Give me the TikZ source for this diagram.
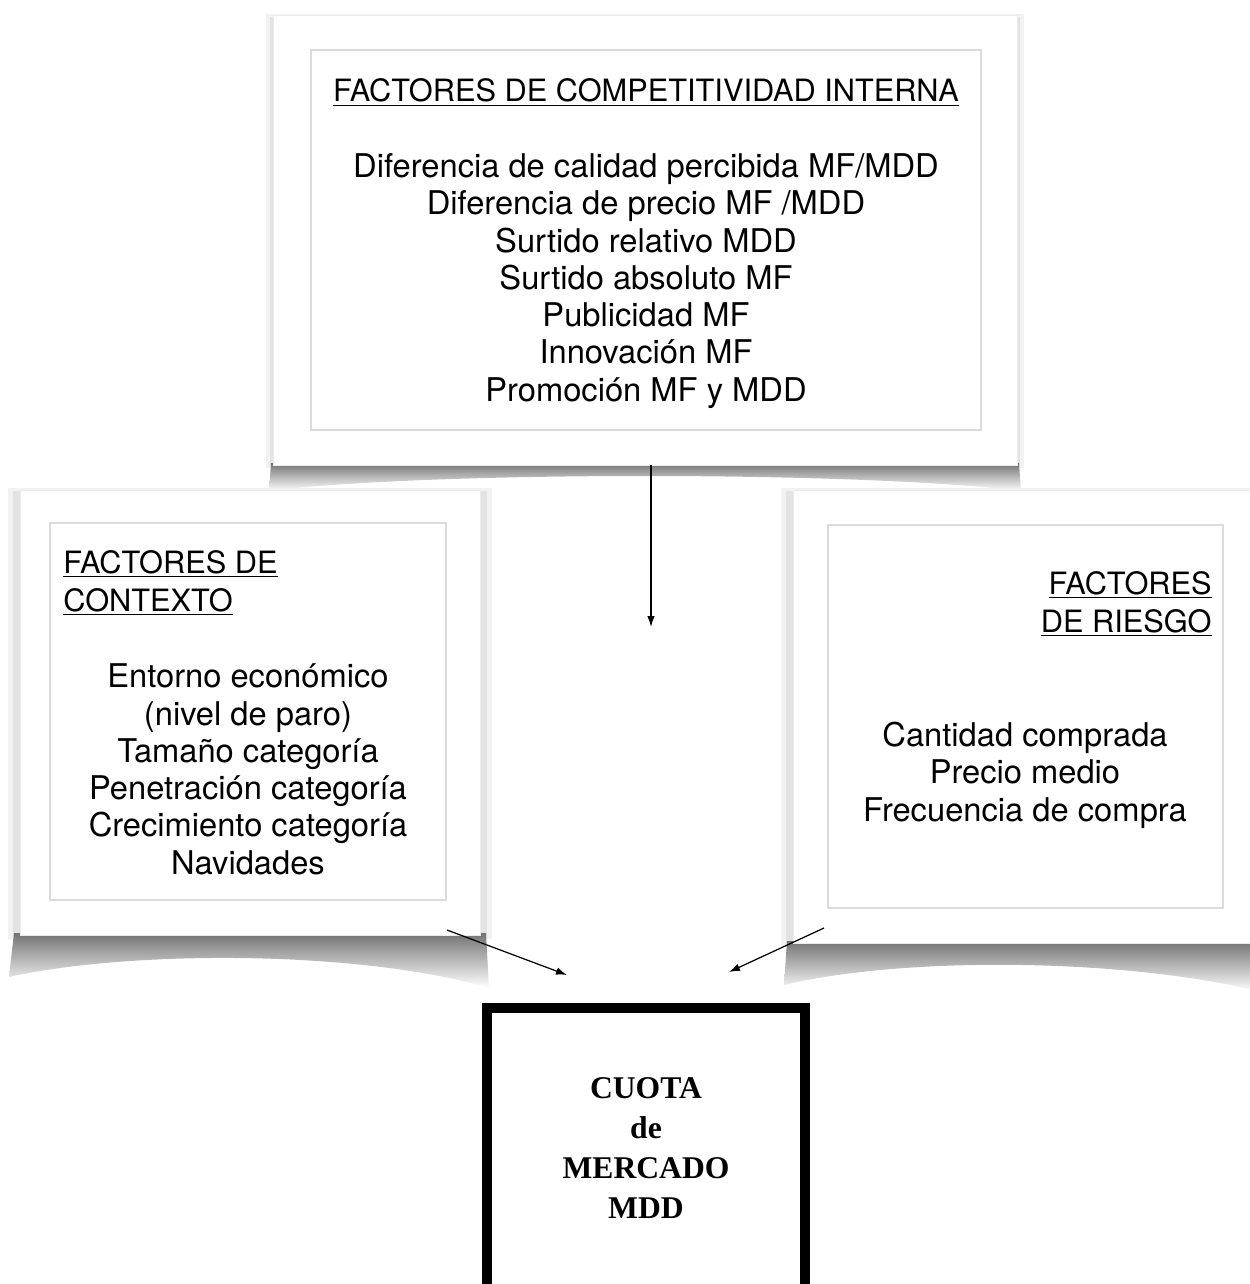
\documentclass[tikz,border=0pt]{standalone}
\usepackage{fontspec}
\setmainfont{TeX Gyre Heros}
\newfontfamily\cuotafont{Liberation Serif}
\usetikzlibrary{positioning,arrows.meta}
\tikzset{
  frame/.style={draw=black!8, fill=white, line width=0.5pt, inner sep=0pt},
  panel/.style={draw=black!14, line width=0.85pt, inner sep=0pt},
  heading/.style={font=\fontsize{17.5}{21.2}\selectfont, inner sep=0pt},
  factor/.style={font=\fontsize{18.6}{21.2}\selectfont, inner sep=0pt, align=center},
  cuota/.style={draw=black, line width=5.7pt, inner sep=0pt, minimum width=6.36cm, minimum height=5.75cm},
  cuotatext/.style={font=\cuotafont\bfseries\fontsize{18}{22.6}\selectfont, align=center, inner sep=0pt},
  link/.style={-{Latex[length=2.2mm,width=1.5mm]}, line width=0.7pt},
  curl/.style={top color=black!55, middle color=black!10, bottom color=white},
  halo/.style={fill=black!5},
  halo2/.style={fill=black!11}
}
\begin{document}
\begin{tikzpicture}[x=0.02cm, y=-0.02cm]
        \useasboundingbox (0,0) rectangle (1249,1284);
        % shadows of the cards
        \fill[halo] (266,14) rectangle (1024,468);
        \fill[halo2] (270,17) rectangle (1020,466);
        \shade[curl] (271,463) -- (1019,463) -- (1021,491) .. controls (860,471) and (430,471) .. (269,491) -- cycle;
        \node [frame, minimum width=14.88cm, minimum height=9cm] (interna) at (645,240) {};
        \node [panel, minimum width=13.4cm, minimum height=7.6cm] (internaPanel) at (646,240) {};

        \fill[halo] (8,488) rectangle (492,939);
        \fill[halo2] (13,491) rectangle (487,937);
        \shade[curl] (14,933) -- (486,933) -- (489,988) .. controls (360,950) and (130,950) .. (9,977) -- cycle;
        \fill[halo] (781,488) rectangle (1268,947);
        \fill[halo2] (786,491) rectangle (1264,945);
        \shade[curl] (787,941) -- (1262,941) -- (1262,992) .. controls (1120,957) and (900,957) .. (784,985) -- cycle;
        \node [frame, minimum width=9.2cm, minimum height=8.9cm] (contexto) at (250,712.5) {};
        \node [panel, minimum width=7.92cm, minimum height=7.54cm] (contextoPanel) at (248,711.5) {};
        \node [frame, minimum width=9.28cm, minimum height=9.06cm] (riesgo) at (1025,716.5) {};
        \node [panel, minimum width=7.9cm, minimum height=7.66cm] (riesgoPanel) at (1025.5,716.5) {};

        % texts (base = last line)
        \node [heading, anchor=base] (internaTitle) at (646,102) {\underline{FACTORES DE COMPETITIVIDAD INTERNA}};
        \node [factor, anchor=base] (internaList) at (646,401) {Diferencia de calidad percibida MF/MDD\\
            Diferencia de precio MF /MDD\\ Surtido relativo MDD\\ Surtido absoluto MF\\
            Publicidad MF\\ Innovación MF\\ Promoción MF y MDD};
        \node [heading, align=left, anchor=base west] (contextoTitle) at (63,611) {\underline{FACTORES DE}\\ \underline{CONTEXTO}};
        \node [factor, anchor=base] (contextoList) at (248,874) {Entorno económico\\ (nivel de paro)\\
            Tamaño categoría\\ Penetración categoría\\ Crecimiento categoría\\ Navidades};
        \node [heading, align=right, anchor=base east] (riesgoTitle) at (1212,632) {\underline{FACTORES}\\ \underline{DE RIESGO}};
        \node [factor, anchor=base] (riesgoList) at (1025,821) {Cantidad comprada\\ Precio medio\\ Frecuencia de compra};

        \node [cuota] (cuota) at (646,1151.25) {};
        \node [cuotatext, anchor=base] (cuotaText) at (646,1218) {CUOTA\\ de\\ MERCADO\\ MDD};

        % connectors
        \coordinate (internaEnd) at (651,627);
        \coordinate (contextoStart) at (447,930);
        \coordinate (contextoEnd) at (567,975);
        \coordinate (riesgoStart) at (824,928);
        \coordinate (riesgoEnd) at (729,972);
        \draw[link] (interna.south -| internaEnd) -- (internaEnd);
        \draw[link] (contextoStart) -- (contextoEnd);
        \draw[link] (riesgoStart) -- (riesgoEnd);
    \end{tikzpicture}
\end{document}
